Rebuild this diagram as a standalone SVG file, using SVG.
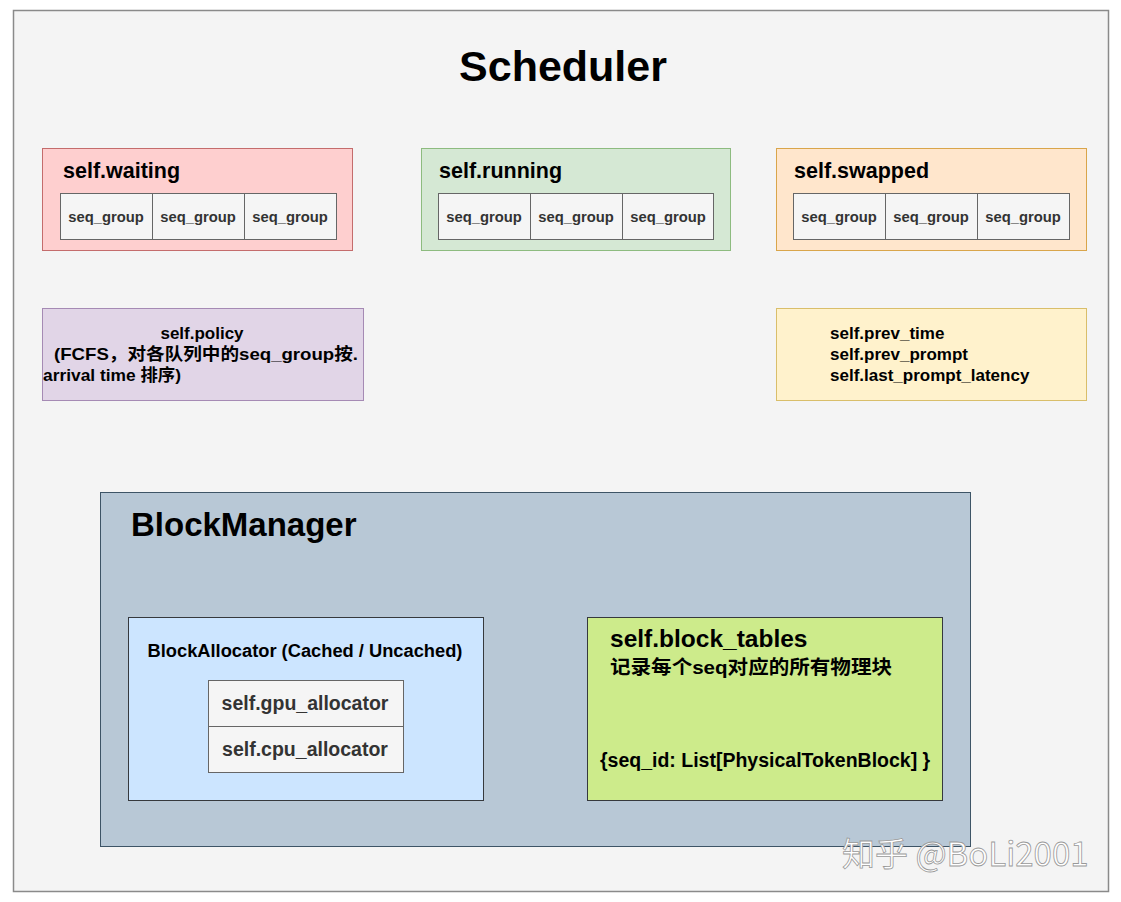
<svg xmlns="http://www.w3.org/2000/svg" width="1121" height="902" viewBox="0 0 1121 902">
<style>
text{font-family:"Liberation Sans","Noto Sans CJK SC",Arial,sans-serif;font-weight:bold;fill:#000}
.cell{fill:#f5f5f5;stroke:#666;stroke-width:1}
.cellt{font-size:14.8px;fill:#333;text-anchor:middle}
.qt{font-size:21.5px}
.t17{font-size:17px}
.wm{font-family:"Noto Sans CJK SC","Liberation Sans",sans-serif;font-weight:normal;font-size:33px;fill:#fff;stroke:#999;stroke-width:0.8}
</style>
<rect x="0" y="0" width="1121" height="902" fill="#ffffff"/>
<g id="scheduler">
<rect x="13.5" y="10.5" width="1095" height="881" fill="#f4f4f4" stroke="#8a8a8a" stroke-width="1.5"/>
<text x="563" y="81" font-size="43" text-anchor="middle">Scheduler</text>
</g>
<g id="waiting">
<rect x="42.5" y="148.5" width="310" height="102" fill="#fecfcf" stroke="#c46c6c"/>
<text class="qt" x="63" y="178">self.waiting</text>
<rect class="cell" x="60.5" y="193.5" width="92" height="46"/>
<rect class="cell" x="152.5" y="193.5" width="92" height="46"/>
<rect class="cell" x="244.5" y="193.5" width="92" height="46"/>
<text class="cellt" x="106" y="222">seq_group</text>
<text class="cellt" x="198" y="222">seq_group</text>
<text class="cellt" x="290" y="222">seq_group</text>
</g>
<g id="running">
<rect x="421.5" y="148.5" width="309" height="102" fill="#d5e8d4" stroke="#8dbb7f"/>
<text class="qt" x="439" y="178">self.running</text>
<rect class="cell" x="438.5" y="193.5" width="92" height="46"/>
<rect class="cell" x="530.5" y="193.5" width="92" height="46"/>
<rect class="cell" x="622.5" y="193.5" width="91" height="46"/>
<text class="cellt" x="484" y="222">seq_group</text>
<text class="cellt" x="576" y="222">seq_group</text>
<text class="cellt" x="668" y="222">seq_group</text>
</g>
<g id="swapped">
<rect x="776.5" y="148.5" width="310" height="102" fill="#ffe6cc" stroke="#d9a54a"/>
<text class="qt" x="794" y="178">self.swapped</text>
<rect class="cell" x="793.5" y="193.5" width="92" height="46"/>
<rect class="cell" x="885.5" y="193.5" width="92" height="46"/>
<rect class="cell" x="977.5" y="193.5" width="92" height="46"/>
<text class="cellt" x="839" y="222">seq_group</text>
<text class="cellt" x="931" y="222">seq_group</text>
<text class="cellt" x="1023" y="222">seq_group</text>
</g>
<g id="policy">
<rect x="42.5" y="308.5" width="321" height="92" fill="#e1d5e7" stroke="#a58ab4"/>
<text class="t17" x="202" y="339" text-anchor="middle">self.policy</text>
<text class="t17" x="54" y="360" textLength="304" lengthAdjust="spacingAndGlyphs">(FCFS，对各队列中的seq_group按.</text>
<text class="t17" x="43" y="381" textLength="138" lengthAdjust="spacingAndGlyphs">arrival time 排序)</text>
</g>
<g id="prev">
<rect x="776.5" y="308.5" width="310" height="92" fill="#fff2cc" stroke="#d9be6a"/>
<text class="t17" x="830" y="339">self.prev_time</text>
<text class="t17" x="830" y="360">self.prev_prompt</text>
<text class="t17" x="830" y="381">self.last_prompt_latency</text>
</g>
<g id="blockmanager">
<rect x="100.5" y="492.5" width="870" height="354" fill="#b8c8d6" stroke="#3d5466"/>
<text x="131" y="536" font-size="33">BlockManager</text>
</g>
<g id="blockallocator">
<rect x="128.5" y="617.5" width="355" height="183" fill="#cce5ff" stroke="#36393d"/>
<text x="305" y="657" font-size="18.3" text-anchor="middle">BlockAllocator (Cached / Uncached)</text>
<rect class="cell" x="208.5" y="680.5" width="195" height="46"/>
<rect class="cell" x="208.5" y="726.5" width="195" height="46"/>
<text x="305" y="710" font-size="19.5" text-anchor="middle" style="fill:#333">self.gpu_allocator</text>
<text x="305" y="756" font-size="19.5" text-anchor="middle" style="fill:#333">self.cpu_allocator</text>
</g>
<g id="blocktables">
<rect x="587.5" y="617.5" width="355" height="183" fill="#cdeb8b" stroke="#36393d"/>
<text x="610" y="647" font-size="24.5">self.block_tables</text>
<text x="610" y="674" font-size="19" textLength="282" lengthAdjust="spacingAndGlyphs">记录每个seq对应的所有物理块</text>
<text x="600" y="767" font-size="19.5">{seq_id: List[PhysicalTokenBlock] }</text>
</g>
<g id="connectors"></g>
<g id="watermark">
<text class="wm" x="842" y="866">知乎 @BoLi2001</text>
</g>
</svg>
